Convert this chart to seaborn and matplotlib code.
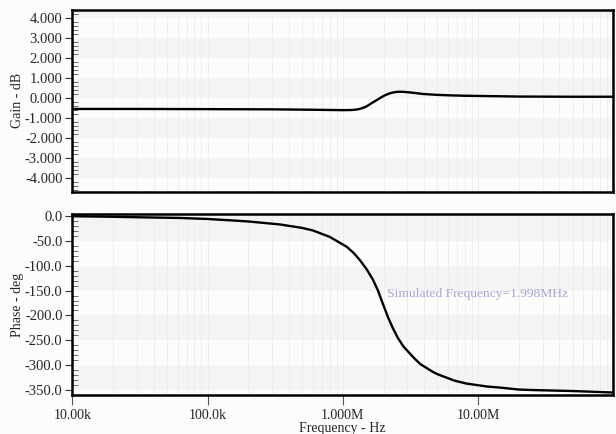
import numpy as np
import pandas as pd
import matplotlib
matplotlib.use("Agg")
import matplotlib.pyplot as plt
import matplotlib.ticker as mticker
import seaborn as sns

# ---- data ----
gain_freq = [10e3, 30e3, 100e3, 300e3, 600e3, 1.0e6, 1.15e6, 1.25e6, 1.33e6, 1.42e6,
             1.5e6, 1.6e6, 1.67e6, 1.75e6, 1.82e6, 1.9e6, 1.97e6, 2.06e6, 2.15e6,
             2.25e6, 2.34e6, 2.48e6, 2.63e6, 2.8e6, 3.0e6, 3.4e6, 3.9e6, 4.8e6,
             6.2e6, 8e6, 10.3e6, 20e6, 50e6, 100e6]
gain_db = [-0.53, -0.53, -0.54, -0.55, -0.57, -0.59, -0.585, -0.565, -0.53, -0.47,
           -0.40, -0.28, -0.20, -0.12, -0.05, 0.03, 0.09, 0.16, 0.21,
           0.26, 0.29, 0.32, 0.33, 0.325, 0.31, 0.27, 0.22, 0.18,
           0.15, 0.13, 0.12, 0.09, 0.08, 0.08]

phase_freq = [10e3, 19e3, 30e3, 63e3, 100e3, 147e3, 200e3, 343e3, 500e3, 600e3,
              800e3, 1.07e6, 1.2e6, 1.34e6, 1.5e6, 1.67e6, 1.82e6, 2.0e6, 2.17e6,
              2.34e6, 2.55e6, 2.8e6, 3.0e6, 3.4e6, 3.75e6, 4.6e6, 5.0e6, 6.67e6,
              8.2e6, 11.7e6, 14.4e6, 20e6, 25e6, 50e6, 100e6]
phase_deg = [-0.5, -1.5, -2.5, -4, -6, -8.7, -11, -17, -24, -29,
             -42, -62, -74, -89, -107, -128, -150, -180, -205,
             -225, -245, -262, -271, -287, -298, -313, -318, -331,
             -337, -343, -345, -349, -350, -352, -355]

x_ticks = [1e4, 1e5, 1e6, 1e7]
x_tick_labels = ["10.00k", "100.0k", "1.000M", "10.00M"]
gain_ticks = [4, 3, 2, 1, 0, -1, -2, -3, -4]
gain_tick_labels = ["4.000", "3.000", "2.000", "1.000", "0.000", "-1.000", "-2.000", "-3.000", "-4.000"]
phase_ticks = [0, -50, -100, -150, -200, -250, -300, -350]
phase_tick_labels = ["0.0", "-50.0", "-100.0", "-150.0", "-200.0", "-250.0", "-300.0", "-350.0"]
annotation = "Simulated Frequency=1.998MHz"

gain_df = pd.DataFrame({"freq": gain_freq, "gain": gain_db})
phase_df = pd.DataFrame({"freq": phase_freq, "phase": phase_deg})

sns.set_theme(style="white")
plt.rcParams["font.family"] = ["Liberation Serif", "DejaVu Serif"]
plt.rcParams["font.size"] = 10

BG = "#fcfcfa"
BAND = "#f4f4f4"
GRID = "#ececec"

fig = plt.figure(figsize=(6.16, 4.34), dpi=100, facecolor=BG)
ax1 = fig.add_axes([72.3 / 616, 1 - 191.5 / 434, 541 / 616, 181.5 / 434])
ax2 = fig.add_axes([72.3 / 616, 1 - 395 / 434, 541 / 616, 181 / 434])

def style_axes(ax, ylim, band_edges, minor_step):
    ax.set_facecolor(BG)
    ax.set_xscale("log")
    ax.set_xlim(1e4, 1e8)
    ax.set_ylim(*ylim)
    for lo, hi in band_edges:
        ax.axhspan(lo, hi, color=BAND, lw=0, zorder=0)
    ax.xaxis.set_minor_locator(mticker.LogLocator(base=10, subs=np.arange(2, 10)))
    ax.grid(True, which="both", axis="x", color=GRID, lw=0.6, zorder=0.5)
    ax.set_axisbelow(True)
    ax.yaxis.set_minor_locator(mticker.MultipleLocator(minor_step))
    ax.tick_params(axis="y", which="major", direction="out", length=5, width=0.8,
                   color="#333333", left=True, labelsize=10.5, pad=2)
    ax.tick_params(axis="y", which="minor", direction="in", length=4, width=0.6,
                   color="#555555", left=True)
    ax.tick_params(axis="x", which="minor", length=0)
    for s in ax.spines.values():
        s.set_color("black")
        s.set_linewidth(1.8)

sns.lineplot(data=gain_df, x="freq", y="gain", ax=ax1, color="black", lw=1.7, zorder=3)
style_axes(ax1, (-4.66, 4.42), [(4, 5), (2, 3), (0, 1), (-2, -1), (-4, -3)], 0.2)
ax1.set_yticks(gain_ticks)
ax1.set_yticklabels(gain_tick_labels)
ax1.set_xticks(x_ticks)
ax1.tick_params(axis="x", which="major", length=0, labelbottom=False)
ax1.set_xlabel("")
ax1.set_ylabel("Gain - dB", fontsize=10)
ax1.yaxis.set_label_coords(-0.090, 0.5)

sns.lineplot(data=phase_df, x="freq", y="phase", ax=ax2, color="black", lw=1.7, zorder=3)
style_axes(ax2, (-360, 4), [(-50, 10), (-150, -100), (-250, -200), (-350, -300)], 10)
ax2.set_yticks(phase_ticks)
ax2.set_yticklabels(phase_tick_labels)
ax2.set_xticks(x_ticks)
ax2.set_xticklabels(x_tick_labels)
ax2.tick_params(axis="x", which="major", direction="out", length=7, width=0.8,
                color="#555555", bottom=True, labelsize=10, pad=3)
ax2.set_xlabel("Frequency - Hz", fontsize=10, labelpad=0)
ax2.set_ylabel("Phase - deg", fontsize=10)
ax2.yaxis.set_label_coords(-0.090, 0.5)
ax2.text(2.11e6, -157, annotation, color="#a4a4d6", fontsize=9.7, ha="left", va="center", zorder=4)

fig.savefig("out.png", dpi=100, facecolor=BG)
